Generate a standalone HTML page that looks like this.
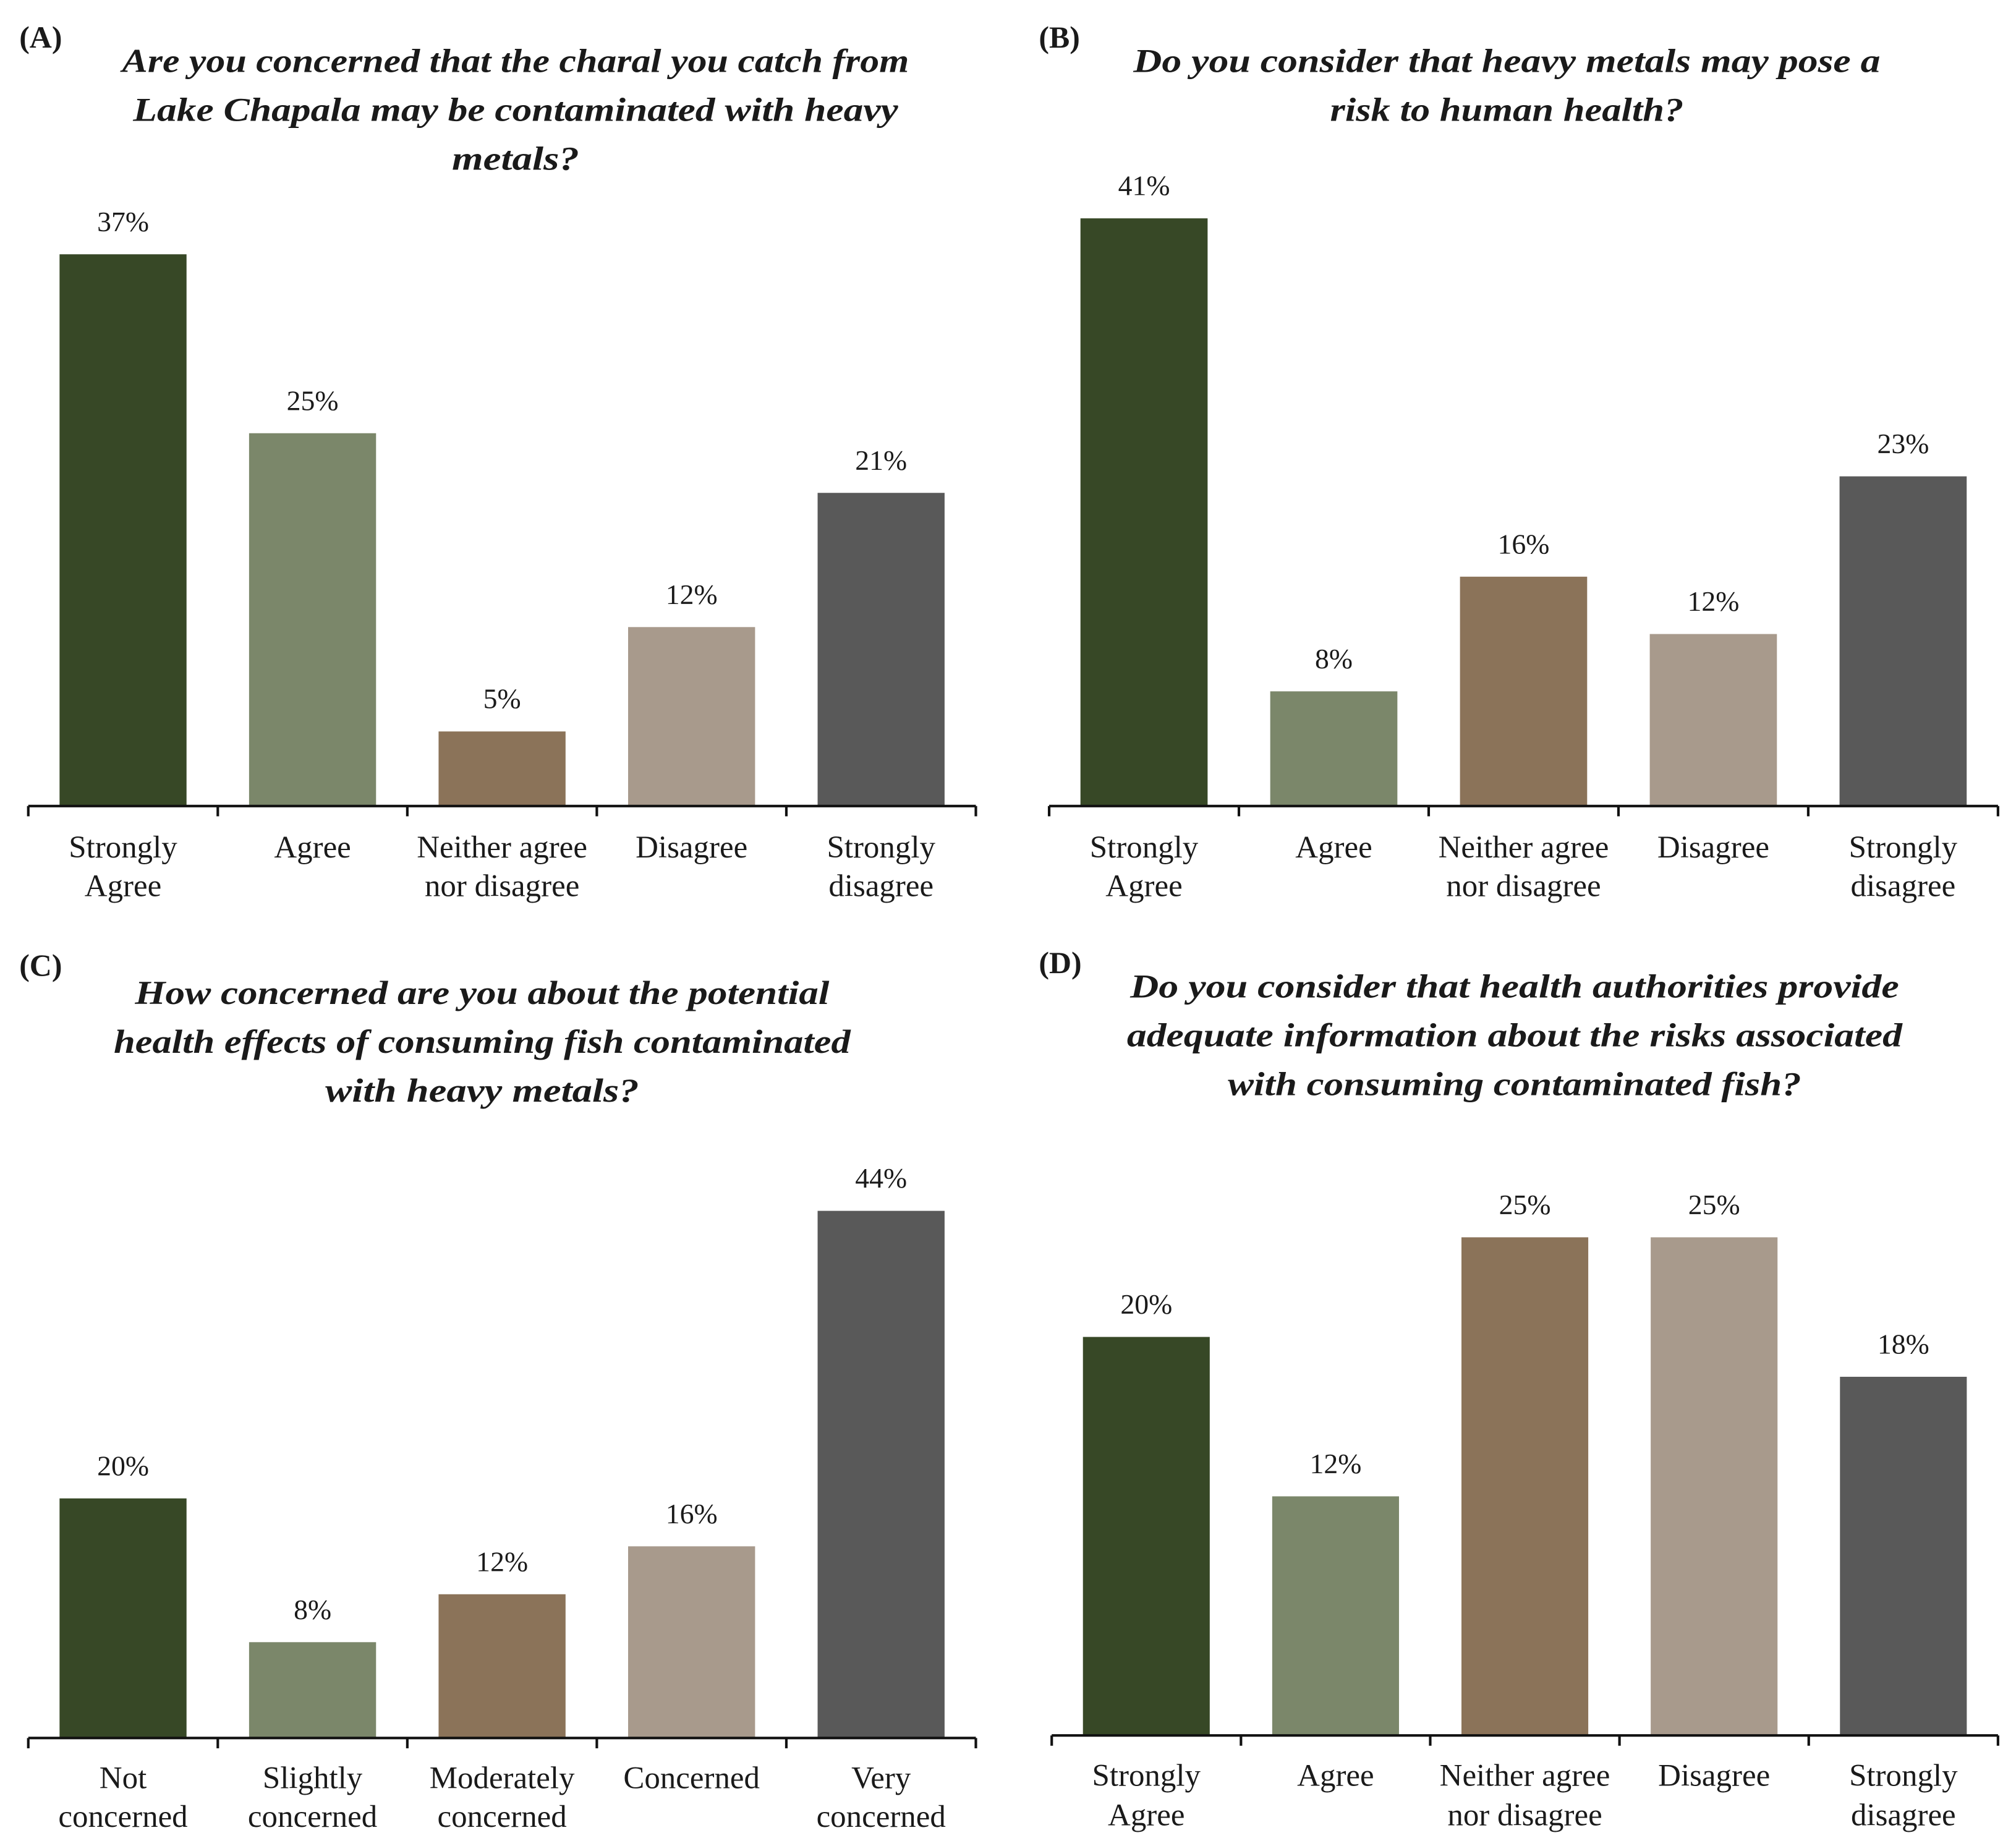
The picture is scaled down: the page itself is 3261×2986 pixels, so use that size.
<!DOCTYPE html>
<html><head><meta charset="utf-8">
<style>
html,body{margin:0;padding:0;background:#fff;}
svg{display:block;}
text{font-family:"Liberation Serif",serif;fill:#1a1a1a;}
.cat{font-size:24.5px;}
.val{font-size:22px;}
.title{font-size:26px;font-style:italic;font-weight:bold;}
.letter{font-size:24px;font-weight:bold;}
</style></head>
<body>
<svg id="chart" width="3261" height="2986" viewBox="0 0 1568 1436" preserveAspectRatio="none" xmlns="http://www.w3.org/2000/svg"></svg>
<script>
const catsAgree = [["Strongly","Agree"],["Agree"],["Neither agree","nor disagree"],["Disagree"],["Strongly","disagree"]];
const catsConcern = [["Not","concerned"],["Slightly","concerned"],["Moderately","concerned"],["Concerned"],["Very","concerned"]];
const valuesA = [37, 25, 5, 12, 21];
const valuesB = [41, 8, 16, 12, 23];
const valuesC = [20, 8, 12, 16, 44];
const valuesD = [20, 12, 25, 25, 18];
const colors = ["#374826","#7b876a","#8b7359","#a89a8c","#595959"];
const NS = "http://www.w3.org/2000/svg";
const svg = document.getElementById('chart');
function mk(tag, attrs, parent){
  const e = document.createElementNS(NS, tag);
  for (const k in attrs) e.setAttribute(k, attrs[k]);
  (parent||svg).appendChild(e);
  return e;
}
const panels = [
  {id:'a', letter:'(A)', lx:15, ly:37, x0:22, x1:759, axisY:627, k:11.6, vals:valuesA, cats:catsAgree, catY:[660,690],
   title:["Are you concerned that the charal you catch from","Lake Chapala may be contaminated with heavy","metals?"], tw:[612,595,99], tx:401, ty:56},
  {id:'b', letter:'(B)', lx:808, ly:37, x0:816, x1:1554, axisY:627, k:11.15, vals:valuesB, cats:catsAgree, catY:[660,690],
   title:["Do you consider that heavy metals may pose a","risk to human health?"], tw:[581,275], tx:1172, ty:56},
  {id:'c', letter:'(C)', lx:15, ly:759, x0:22, x1:759, axisY:1352, k:9.32, vals:valuesC, cats:catsConcern, catY:[1384,1414],
   title:["How concerned are you about the potential","health effects of consuming fish contaminated","with heavy metals?"], tw:[540,573,244], tx:375, ty:781},
  {id:'d', letter:'(D)', lx:808, ly:757, x0:818, x1:1554, axisY:1350, k:15.5, vals:valuesD, cats:catsAgree, catY:[1382,1413],
   title:["Do you consider that health authorities provide","adequate information about the risks associated","with consuming contaminated fish?"], tw:[598,603,446], tx:1178, ty:776}
];
panels.forEach(p=>{
  const g = mk('g',{});
  
  
  const L = mk('text',{x:p.lx,y:p.ly,class:'letter'},g); L.textContent=p.letter;
  
  
  p.title.forEach((t,i)=>{
    const T = mk('text',{x:p.tx,y:p.ty+i*38,class:'title','text-anchor':'middle',textLength:p.tw[i],lengthAdjust:'spacingAndGlyphs'},g); T.textContent=t;
    
    
  });
  const n = p.vals.length;
  const band = (p.x1-p.x0)/n;
  const xs = i => p.x0 + band*i;
  const ys = v => p.axisY - v*p.k;
  p.vals.forEach((v,i)=>{
    const bw = band*0.67;
    const bx = xs(i) + (band-bw)/2;
    const r = mk('rect',{x:bx,y:ys(v),width:bw,height:p.axisY-ys(v),fill:colors[i]},g);
    
    
    const vt = mk('text',{x:xs(i)+band/2,y:ys(v)-18,class:'val','text-anchor':'middle'},g);
    vt.textContent = v+'%';
    
    
    p.cats[i].forEach((c,j)=>{
      const ct = mk('text',{x:xs(i)+band/2,y:p.catY[j]+7,class:'cat','text-anchor':'middle'},g);
      ct.textContent=c;
      
      
    });
  });
  const ax = mk('line',{x1:p.x0,y1:p.axisY,x2:p.x1,y2:p.axisY,stroke:'#111','stroke-width':2},g);
  
  
  for(let i=0;i<=n;i++){
    const t = mk('line',{x1:xs(i),y1:p.axisY,x2:xs(i),y2:p.axisY+8,stroke:'#111','stroke-width':2},g);
    
    
  }
});
</script>
</body></html>
